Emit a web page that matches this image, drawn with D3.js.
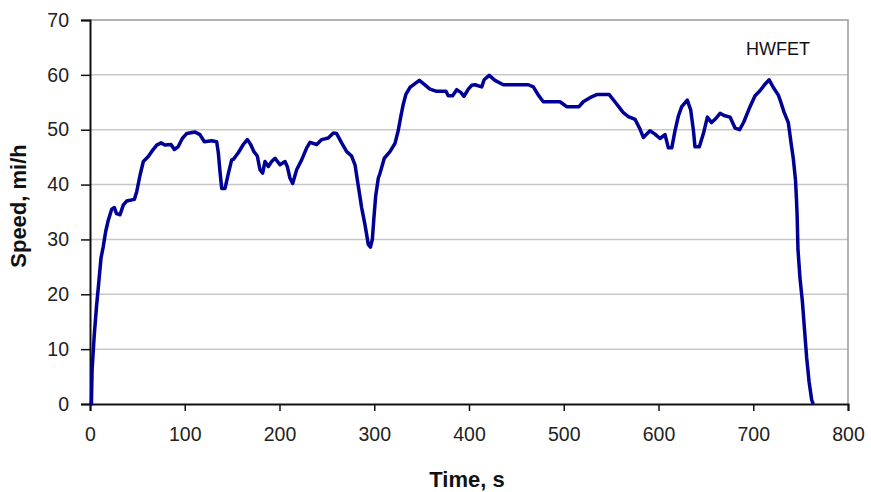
<!DOCTYPE html>
<html>
<head>
<meta charset="utf-8">
<script src="https://cdn.jsdelivr.net/npm/d3@7"></script>
<style>
  body { margin: 0; background: #fff; }
  svg { display: block; }
  text { font-family: "Liberation Sans", Arial, sans-serif; }
</style>
</head>
<body>
<div id="chart"></div>
<script>
// HWFET drive cycle
const timeS = [0, 1.5, 2.2, 4.5, 7, 9.5, 11.6, 14, 16.5, 19.3, 22.9, 25.7, 28, 31.7, 35.2, 38.7, 46.8, 49.3, 52.8, 56.3,
    61.5, 65, 70.4, 75, 79, 85.5, 89, 93, 97.4, 102, 110.8, 116, 120.7, 128.4, 133.7, 135.5, 137, 139, 142.5, 146,
    149.5, 151.3, 156.5, 161.8, 166, 169.6, 173, 176.6, 179.4, 182.2, 184.7, 188.2, 191.7, 195.3, 200.5, 205.8, 208.2, 211, 213.9, 218.1,
    223.4, 228.7, 232.2, 239.3, 244.5, 251.5, 256.8, 260.3, 265.6, 270.9, 276.1, 279.7, 283.2, 286.7, 290.2, 293.7, 296, 298, 299.5, 301.5,
    304.3, 306, 310.6, 316.6, 321.9, 325.4, 327.9, 330.7, 333.5, 337.7, 343, 347.6, 352.5, 358.8, 365.9, 375.7, 378.1, 382.7, 387, 391.3,
    394.7, 399.3, 402.8, 406.3, 413.4, 416, 421.3, 427.4, 436.2, 462.6, 467.9, 473.2, 478.4, 496, 503.1, 516.1, 520.6, 529.4, 534.7, 548,
    554, 559.4, 562.9, 568.2, 575.2, 580.5, 584, 591, 596.3, 601.6, 606.9, 610.4, 614, 617.4, 621, 624.5, 630.4, 634, 636.9, 638.5,
    643.1, 647.4, 651.6, 656, 659.7, 665, 669.2, 675.5, 680.8, 685.6, 690, 696.6, 701.9, 707.1, 712.4, 716.8, 721.2, 726.5, 728.2, 732.5,
    737, 739.8, 742.3, 744.6, 745.6, 746.3, 747.2, 749.3, 751.8, 753.9, 756.4, 758.9, 761.7, 763.4];

const speedMph = [0, 0, 6.2, 12.6, 18, 22.6, 26.6, 28.7, 31.4, 33.5, 35.5, 35.8, 34.7, 34.5, 36.3, 37, 37.3, 38.7, 41.7, 44.2,
    45.1, 46, 47.2, 47.6, 47.2, 47.3, 46.4, 46.9, 48.4, 49.3, 49.6, 49.1, 47.8, 48, 47.8, 45.7, 42.7, 39.3, 39.3, 42,
    44.5, 44.6, 45.8, 47.3, 48.2, 47.3, 46, 45.2, 42.7, 42.1, 44.2, 43.3, 44.2, 44.8, 43.6, 44.2, 43.3, 41.2, 40.2, 42.7,
    44.5, 46.7, 47.7, 47.3, 48.2, 48.5, 49.4, 49.3, 47.6, 46, 45.2, 43.6, 39.7, 35.8, 32.7, 29.1, 28.6, 30, 33.6, 37.9,
    41.2, 42, 44.8, 46, 47.5, 49.9, 52.3, 54.7, 56.5, 57.7, 58.4, 59, 58.3, 57.4, 57, 57, 56.2, 56.2, 57.3, 56.8,
    56.1, 57.4, 58.1, 58.2, 57.8, 59.1, 59.9, 59, 58.2, 58.2, 57.8, 56.3, 55.1, 55.1, 54.2, 54.2, 55.1, 56, 56.4, 56.4,
    55.1, 53.9, 53.1, 52.4, 51.9, 50.1, 48.6, 49.8, 49.2, 48.4, 49.1, 46.7, 46.7, 49.8, 52.5, 54.2, 55.4, 53.6, 49.8, 46.9,
    46.9, 49.3, 52.3, 51.3, 51.9, 53, 52.6, 52.3, 50.3, 50, 51.4, 54.2, 56.2, 57.1, 58.3, 59.1, 57.7, 56.3, 55.5, 53.2,
    51.3, 47.7, 44.7, 40.8, 37.4, 34.4, 28.2, 23, 18.8, 14, 8.4, 4.1, 0.7, 0];

const xTicks = [0, 100, 200, 300, 400, 500, 600, 700, 800];
const yTicks = [0, 10, 20, 30, 40, 50, 60, 70];

const width = 871, height = 492;
const plotLeft = 90, plotRight = 848, plotTop = 20, plotBottom = 404;

const svg = d3.select("#chart").append("svg")
    .attr("width", width)
    .attr("height", height);

const x = d3.scaleLinear().domain([0, 800]).range([plotLeft, plotRight]);
const y = d3.scaleLinear().domain([0, 70]).range([plotBottom, plotTop]);

// grid lines
svg.append("g")
    .selectAll("line")
    .data(yTicks.filter(d => d > 0 && d < 70))
    .enter()
    .append("line")
    .attr("x1", plotLeft)
    .attr("x2", plotRight)
    .attr("y1", d => y(d))
    .attr("y2", d => y(d))
    .attr("stroke", "#c8c8c8")
    .attr("stroke-width", 1.5);

// grey frame on top and right
svg.append("path")
    .attr("d", `M${plotLeft},${plotTop}H${plotRight}V${plotBottom}`)
    .attr("fill", "none")
    .attr("stroke", "#9a9a9a")
    .attr("stroke-width", 1.5);

// axes
const xAxis = svg.append("g")
    .attr("transform", `translate(0,${plotBottom})`)
    .call(d3.axisBottom(x).tickValues(xTicks).tickSize(7).tickPadding(16));

const yAxis = svg.append("g")
    .attr("transform", `translate(${plotLeft},0)`)
    .call(d3.axisLeft(y).tickValues(yTicks).tickSize(9).tickPadding(12));

[xAxis, yAxis].forEach(g => {
    g.select(".domain").attr("stroke", "#111").attr("stroke-width", 2);
    g.selectAll(".tick line").attr("stroke", "#111").attr("stroke-width", 1.5);
    g.selectAll(".tick text")
        .attr("fill", "#222")
        .style("font-size", "19.5px")
        .style("font-family", "'Liberation Sans', Arial, sans-serif");
});

// speed trace
const points = timeS.map((t, i) => [t, speedMph[i]]);

svg.append("path")
    .datum(points)
    .attr("fill", "none")
    .attr("stroke", "#000096")
    .attr("stroke-width", 3.5)
    .attr("stroke-linejoin", "round")
    .attr("d", d3.line().x(d => x(d[0])).y(d => y(d[1])));

// labels
svg.append("text")
    .attr("x", 467)
    .attr("y", 487)
    .attr("text-anchor", "middle")
    .attr("font-weight", "bold")
    .attr("font-size", 22)
    .attr("fill", "#111")
    .text("Time, s");

svg.append("text")
    .attr("transform", "translate(26,206) rotate(-90)")
    .attr("text-anchor", "middle")
    .attr("font-weight", "bold")
    .attr("font-size", 22)
    .attr("fill", "#111")
    .text("Speed, mi/h");

svg.append("text")
    .attr("x", 810)
    .attr("y", 55)
    .attr("text-anchor", "end")
    .attr("font-size", 18)
    .attr("fill", "#111")
    .text("HWFET");
</script>
</body>
</html>
